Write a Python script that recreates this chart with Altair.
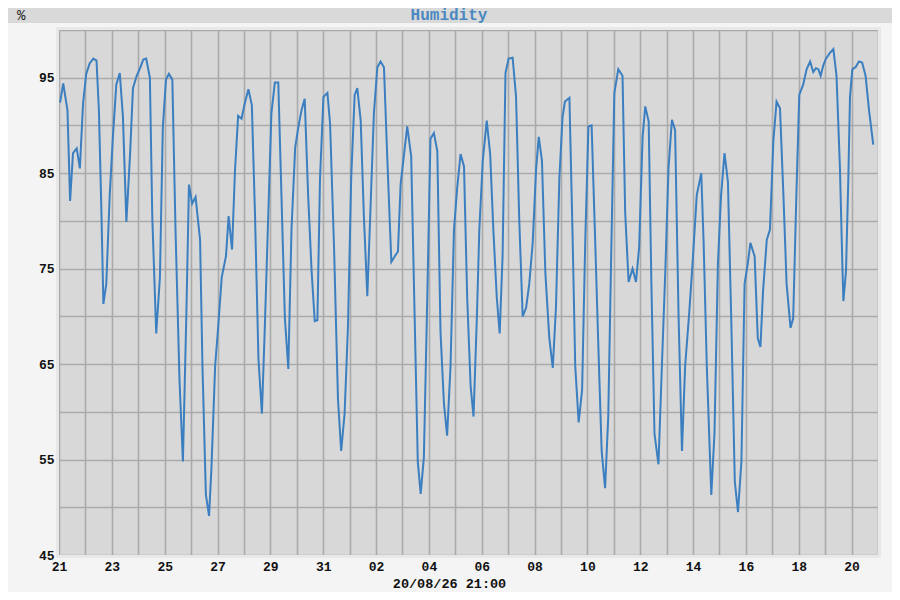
import altair as alt
import pandas as pd

# time in days since 21 Jul 00:00, humidity in %
days = [
    0.04, 0.16, 0.32, 0.42, 0.53, 0.67, 0.79, 0.91, 1.03, 1.16, 1.30, 1.42, 1.51, 1.60, 1.68, 1.79, 1.92,
    2.04, 2.17, 2.30, 2.42, 2.55, 2.69, 2.80, 2.94, 3.07, 3.19, 3.30, 3.44, 3.53, 3.68, 3.82, 3.93,
    4.05, 4.16, 4.29, 4.41, 4.56, 4.69, 4.82, 4.92, 5.04, 5.17, 5.34, 5.43, 5.56, 5.68, 5.77, 5.91,
    6.03, 6.16, 6.32, 6.42, 6.55, 6.66, 6.78, 6.91, 7.03, 7.17, 7.30, 7.42, 7.55, 7.68, 7.79, 7.92,
    8.04, 8.17, 8.30, 8.42, 8.55, 8.68, 8.80, 8.94, 9.07, 9.18, 9.30, 9.43, 9.56, 9.68, 9.78, 9.88,
    10.01, 10.16, 10.26, 10.41, 10.56, 10.68, 10.81, 10.94, 11.06, 11.19, 11.29, 11.42, 11.54, 11.67,
    11.79, 11.92, 12.05, 12.17, 12.30, 12.43, 12.58, 12.71, 12.83, 12.93, 13.06, 13.18, 13.33, 13.46,
    13.58, 13.69, 13.81, 13.94, 14.06, 14.19, 14.32, 14.44, 14.57, 14.69, 14.82, 14.95, 15.07, 15.20,
    15.33, 15.45, 15.58, 15.69, 15.82, 15.91, 16.04, 16.19, 16.32, 16.44, 16.57, 16.68, 16.79, 16.90,
    17.02, 17.17, 17.30, 17.42, 17.55, 17.68, 17.80, 17.93, 18.06, 18.16, 18.28, 18.41, 18.56, 18.69,
    18.81, 18.94, 19.06, 19.15, 19.32, 19.44, 19.54, 19.67, 19.80, 19.92, 20.04, 20.16, 20.29, 20.41,
    20.54, 20.67, 20.79, 20.89, 21.02, 21.17, 21.33, 21.43, 21.56, 21.71, 21.84, 21.96, 22.09, 22.19,
    22.32, 22.42, 22.54, 22.69, 22.82, 22.95, 23.07, 23.20, 23.32, 23.45, 23.58, 23.70, 23.85, 23.98,
    24.14, 24.31, 24.40, 24.52, 24.69, 24.81, 24.94, 25.06, 25.19, 25.32, 25.45, 25.58, 25.70, 25.83,
    25.95, 26.07, 26.17, 26.33, 26.45, 26.55, 26.65, 26.79, 26.91, 27.04, 27.16, 27.29, 27.42, 27.54,
    27.69, 27.79, 27.91, 28.02, 28.17, 28.30, 28.43, 28.55, 28.65, 28.74, 28.83, 28.93, 29.03, 29.18,
    29.31, 29.43, 29.56, 29.65, 29.69, 29.79, 29.88, 29.94, 30.03, 30.15, 30.28, 30.40, 30.53, 30.66,
    30.82,
]
humidity = [
    92.4, 94.4, 91.6, 82.1, 87.1, 87.6, 85.5, 92.3, 95.4, 96.5, 97.0, 96.8, 91.6, 81.6, 71.3, 73.4, 82.7,
    88.8, 94.3, 95.5, 90.9, 79.9, 87.0, 93.9, 95.2, 96.0, 96.9, 97.0, 95.0, 80.5, 68.2, 74.1, 89.8,
    94.8, 95.4, 94.8, 79.1, 63.4, 54.8, 70.2, 83.8, 81.8, 82.5, 78.0, 64.8, 51.3, 49.1, 54.1, 64.8,
    69.1, 74.1, 76.3, 80.5, 77.0, 85.2, 91.0, 90.7, 92.3, 93.8, 92.1, 80.5, 65.5, 59.8, 68.8, 80.5,
    91.3, 94.5, 94.5, 82.7, 69.8, 64.5, 79.1, 87.7, 90.0, 91.6, 92.8, 82.7, 74.8, 69.5, 69.6, 84.5,
    93.0, 93.4, 90.2, 77.3, 61.3, 55.9, 59.8, 69.1, 84.5, 93.2, 93.9, 90.5, 80.5, 72.1,
    81.3, 91.3, 96.1, 96.7, 96.1, 86.3, 75.7, 76.3, 76.8, 83.8, 87.0, 89.9, 86.8, 70.2,
    54.8, 51.4, 55.2, 72.0, 88.6, 89.2, 87.3, 68.4, 60.9, 57.5, 64.8, 79.1, 83.4, 87.0,
    85.7, 72.0, 62.7, 59.5, 70.2, 79.1, 86.3, 90.5, 87.0, 79.1, 72.0, 68.2, 76.3, 95.5,
    97.0, 97.1, 93.0, 80.2, 70.0, 70.9, 73.4, 77.7, 85.5, 88.8, 86.3, 74.5, 67.7, 64.6,
    70.9, 84.5, 90.9, 92.5, 92.9, 78.4, 64.8, 58.9, 62.3, 78.0, 89.9, 90.0, 78.4, 67.3,
    55.9, 52.0, 59.5, 74.8, 93.4, 95.9, 95.2, 80.9, 73.6, 75.0, 73.6, 77.3, 88.8, 92.0,
    90.4, 73.8, 57.7, 54.5, 64.8, 74.8, 85.5, 90.6, 89.5, 70.2, 55.9, 64.8, 70.2, 75.5,
    82.7, 85.0, 77.7, 64.8, 51.3, 57.7, 75.5, 82.7, 87.1, 84.1, 69.1, 52.7, 49.5, 54.8,
    73.4, 75.5, 77.7, 76.3, 67.7, 66.8, 72.7, 78.0, 79.1, 88.4, 92.5, 91.8, 82.7, 73.4,
    68.8, 69.8, 82.7, 93.2, 94.3, 95.9, 96.7, 95.6, 96.0, 95.9, 95.2, 96.3, 97.0, 97.6,
    98.0, 95.2, 85.5, 75.5, 71.6, 74.8, 84.8, 93.0, 95.9, 96.1, 96.7, 96.6, 95.2, 91.6,
    88.0,
]

x_tick_labels = ["21", "23", "25", "27", "29", "31", "02", "04",
                 "06", "08", "10", "12", "14", "16", "18", "20"]
x_grid_days = list(range(0, 32))
y_grid_values = list(range(45, 101, 5))

title_text = "Humidity"
unit_text = "%"
x_title = "20/08/26 21:00"

PLOT_W, PLOT_H = 819, 525
PAD = {"left": 51, "top": 22, "right": 14, "bottom": 37}
FONT = "Liberation Mono"

df = pd.DataFrame({"day": days, "humidity": humidity})

label_array = "[" + ",".join("'%s'" % s for s in x_tick_labels) + "]"
x_label_expr = "datum.value % 2 == 0 ? " + label_array + "[datum.value / 2] : ''"
y_label_expr = "(datum.value % 10 == 5 && datum.value < 100) ? datum.label : ''"

x_axis = alt.Axis(
    values=x_grid_days, labelExpr=x_label_expr, title=x_title,
    ticks=False, domain=False, labelPadding=5, titlePadding=3,
    titleX=390, titleAnchor="middle",
    labelFlush=False, labelOverlap=False,
)
y_axis = alt.Axis(
    values=y_grid_values, labelExpr=y_label_expr, title=None,
    ticks=False, domain=False, labelPadding=5, labelOverlap=False,
)

line = alt.Chart(df).mark_line(color="#3b7fc0", strokeWidth=2).encode(
    x=alt.X("day:Q", scale=alt.Scale(domain=[0, 31], nice=False, zero=False), axis=x_axis),
    y=alt.Y("humidity:Q", scale=alt.Scale(domain=[45, 100], nice=False, zero=False), axis=y_axis),
)

banner = alt.Chart(pd.DataFrame({"k": [0]})).mark_rect(color="#d9d9d9").encode(
    x=alt.value(-PAD["left"]), x2=alt.value(PLOT_W + PAD["right"]),
    y=alt.value(-PAD["top"]), y2=alt.value(-7),
)

frame = alt.Chart(pd.DataFrame({"k": [0]})).mark_rect(
    filled=False, stroke="#e8e8e8", strokeWidth=3
).encode(
    x=alt.value(-1.5), x2=alt.value(PLOT_W + 1.5),
    y=alt.value(-1.5), y2=alt.value(PLOT_H + 1.5),
)

title = alt.Chart(pd.DataFrame({"t": [title_text]})).mark_text(
    font=FONT, fontSize=16, fontWeight="bold", color="#4a88c2",
    align="center", baseline="alphabetic",
).encode(text="t:N", x=alt.value(390), y=alt.value(-10))

unit = alt.Chart(pd.DataFrame({"t": [unit_text]})).mark_text(
    font=FONT, fontSize=14, color="#222222", align="left", baseline="alphabetic",
).encode(text="t:N", x=alt.value(-42), y=alt.value(-10))

chart = alt.layer(banner, frame, line, title, unit).properties(
    width=PLOT_W, height=PLOT_H,
    autosize=alt.AutoSizeParams(type="none"),
    padding=PAD,
    background="#f4f4f4",
).configure_view(
    fill="#d8d8d8", stroke=None,
).configure_axis(
    grid=True, gridColor="#aaaaaa", gridWidth=1.6, gridOpacity=1,
    labelFont=FONT, labelFontSize=13, labelFontWeight="bold", labelColor="#111111",
    titleFont=FONT, titleFontSize=13.5, titleFontWeight="bold", titleColor="#111111",
)

chart.save("out.html", embed_options={"renderer": "svg", "actions": False})
